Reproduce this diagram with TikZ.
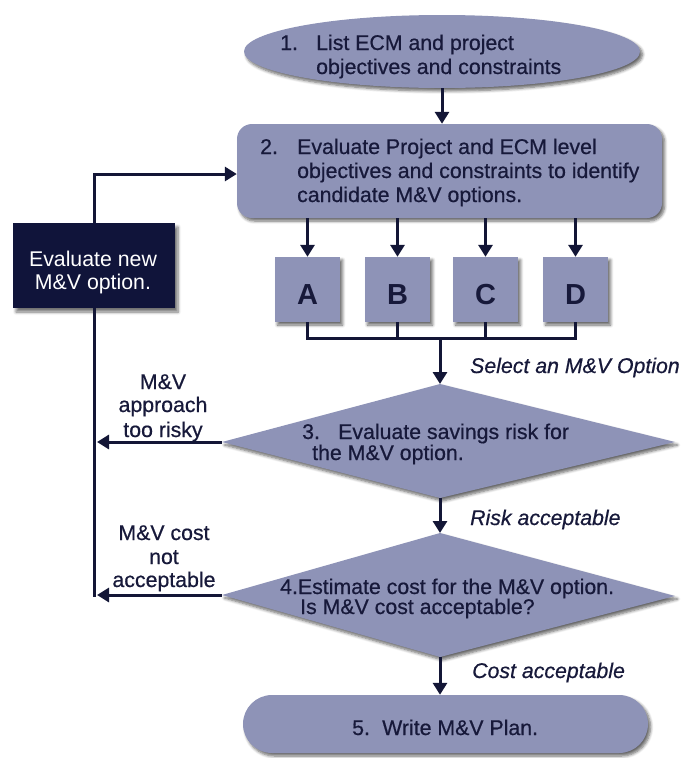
\documentclass[tikz,border=0pt]{standalone}
\usepackage{fontspec}
\setmainfont[FakeBold=0.6]{Liberation Sans}
\newfontfamily\plainsans{Liberation Sans}
\usetikzlibrary{arrows.meta,shadows.blur,shapes.geometric,calc}
\definecolor{fillc}{HTML}{8E93B7}
\definecolor{navy}{HTML}{131636}
\definecolor{txt}{HTML}{17193A}
\definecolor{darkbox}{HTML}{10143A}
\begin{document}
\begin{tikzpicture}[x=1pt,y=-1pt,
  shapebox/.style={fill=fillc, draw=none, inner sep=0pt,
    blur shadow={shadow xshift=2.5pt, shadow yshift=-3pt, shadow blur steps=6, shadow opacity=60, shadow blur radius=3pt}},
  conn/.style={draw=navy, line width=3pt},
  arr/.style={conn, -{Triangle[width=14pt,length=12pt]}},
  t/.style={text=txt, font=\fontsize{21.3}{24}\selectfont, inner sep=0pt, anchor=base west},
  tc/.style={t, anchor=base},
  ti/.style={t, font=\fontsize{21.3}{24}\selectfont\itshape},
  tw/.style={tc, text=white, font=\plainsans\fontsize{21.3}{24}\selectfont},
  letter/.style={text=txt, font=\plainsans\fontsize{29}{32}\selectfont\bfseries, inner sep=0pt, anchor=base},
  sq/.style={shapebox, minimum width=65pt, minimum height=65pt}
]
\useasboundingbox (0,0) rectangle (686,758);

% shapes
\node[shapebox, ellipse, minimum width=396pt, minimum height=73pt] (e1) at (442,51.5) {};
\node[shapebox, rectangle, rounded corners=15pt, minimum width=425pt, minimum height=94pt] (b2) at (449.5,171) {};
\node[fill=darkbox, inner sep=0pt, minimum width=162pt, minimum height=85pt,
  blur shadow={shadow xshift=3pt, shadow yshift=-4pt, shadow blur steps=6, shadow opacity=55, shadow blur radius=3pt}] (nb) at (94,265.5) {};
\node[sq] (A) at (307.5,289.5) {};
\node[sq] (B) at (397.5,289.5) {};
\node[sq] (C) at (485.5,289.5) {};
\node[sq] (D) at (575.5,289.5) {};

\coordinate (d3t) at (440,384);
\coordinate (d3r) at (675,442);
\coordinate (d3b) at (440,498);
\coordinate (d3l) at (222,442);
\path[shapebox] (d3t) -- (d3r) -- (d3b) -- (d3l) -- cycle;

\coordinate (d4t) at (440,533);
\coordinate (d4r) at (675,596);
\coordinate (d4b) at (440,657);
\coordinate (d4l) at (222,595);
\path[shapebox] (d4t) -- (d4r) -- (d4b) -- (d4l) -- cycle;

\node[shapebox, rounded corners=29pt, minimum width=405pt, minimum height=58pt] (e5) at (445.5,724) {};

% texts
\node[t] (t1a) at (280,50) {1.};
\node[t] (t1b) at (316,50) {List ECM and project};
\node[t] (t1c) at (316,74) {objectives and constraints};

\node[t] (t2a) at (260,154) {2.};
\node[t] (t2b) at (297,154) {Evaluate Project and ECM level};
\node[t] (t2c) at (297,178) {objectives and constraints to identify};
\node[t] (t2d) at (297,202) {candidate M\&V options.};

\node[tw] (tn1) at (93,266) {Evaluate new};
\node[tw] (tn2) at (93,289) {M\&V option.};

\node[letter] (lA) at (307.5,304) {A};
\node[letter] (lB) at (397.5,304) {B};
\node[letter] (lC) at (485.5,304) {C};
\node[letter] (lD) at (575.5,304) {D};

\node[ti] (sel) at (470,373) {Select an M\&V Option};
\node[ti] (risk) at (470,525) {Risk acceptable};
\node[ti] (cost) at (472,678) {Cost acceptable};

\node[t] (t3a) at (302,439) {3.};
\node[t] (t3b) at (338,439) {Evaluate savings risk for};
\node[t] (t3c) at (312,460) {the M\&V option.};

\node[t] (t4a) at (280,594) {4.Estimate cost for the M\&V option.};
\node[t] (t4b) at (300,614) {Is M\&V cost acceptable?};

\node[tc] (r1) at (163,389) {M\&V};
\node[tc] (r2) at (163,412) {approach};
\node[tc] (r3) at (163,437) {too risky};
\node[tc] (c1) at (164,540) {M\&V cost};
\node[tc] (c2) at (164,564) {not};
\node[tc] (c3) at (164,587) {acceptable};

\node[t] (t5a) at (352,735) {5.};
\node[t] (t5b) at (382,735) {Write M\&V Plan.};

% connectors
\draw[arr] (e1.south) -- (e1.south |- b2.north);
\foreach \n in {A,B,C,D} \draw[arr] (\n.north |- b2.south) -- (\n.north);
\coordinate (bus) at (440,338);
\draw[conn] (A.south) -- (A.south |- bus) -- (D.south |- bus) -- (D.south);
\draw[conn] (B.south) -- (B.south |- bus);
\draw[conn] (C.south) -- (C.south |- bus);
\draw[arr] (bus) -- (d3t);
\draw[arr] (d3b) -- (d4t);
\draw[arr] (d4b) -- (d4b |- e5.north);

\coordinate (fb) at (0,174);
\draw[arr] (nb.north) -- (nb.north |- fb) -- (b2.west |- fb);
\coordinate (vend) at ($(nb.south |- d4l)+(0,1.5)$);
\draw[conn] (nb.south) -- (vend);
\draw[arr] (d3l) -- ($(nb.south |- d3l)+(3,0)$);
\draw[arr] (d4l) -- ($(nb.south |- d4l)+(3,0)$);
\end{tikzpicture}
\end{document}
